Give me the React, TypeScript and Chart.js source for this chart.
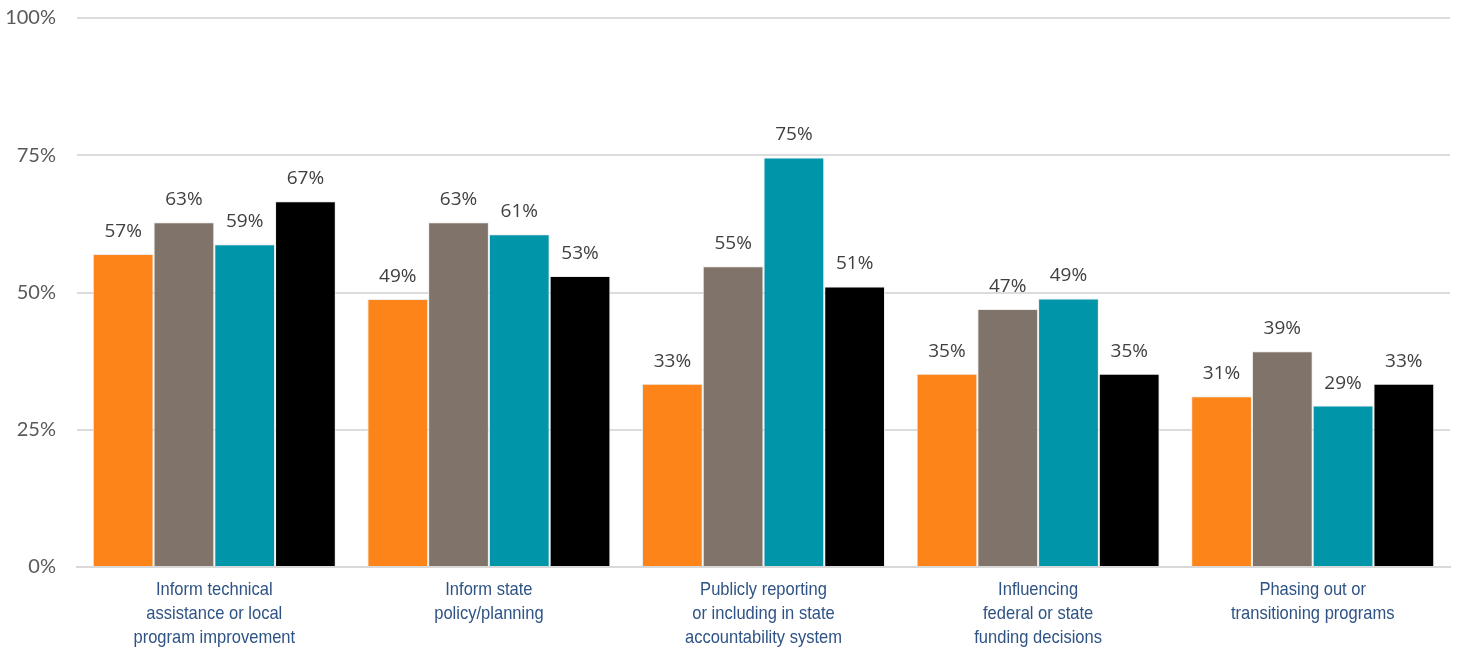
import React, { useEffect, useRef } from "react";
import { Chart, registerables } from "chart.js";

Chart.register(...registerables);

const categories: string[][] = [
  ["Inform technical", "assistance or local", "program improvement"],
  ["Inform state", "policy/planning"],
  ["Publicly reporting", "or including in state", "accountability system"],
  ["Influencing", "federal or state", "funding decisions"],
  ["Phasing out or", "transitioning programs"],
];

const seriesA: number[] = [57.0, 48.8, 33.4, 35.2, 31.1];
const seriesB: number[] = [62.8, 62.8, 54.8, 47.0, 39.3];
const seriesC: number[] = [58.8, 60.6, 74.6, 48.9, 29.4];
const seriesD: number[] = [66.6, 53.0, 51.1, 35.2, 33.4];

const seriesColors: string[] = ["#fd8419", "#807369", "#0095a9", "#000000"];
const yTicks: number[] = [0, 25, 50, 75, 100];

const labelPlugin = {
  id: "barLabels",
  afterDatasetsDraw(chart: any) {
    const ctx = chart.ctx;
    ctx.save();
    ctx.font = "19px 'Open Sans'";
    ctx.fillStyle = "#404040";
    ctx.textAlign = "center";
    ctx.textBaseline = "bottom";
    chart.data.datasets.forEach((ds: any, i: number) => {
      const meta = chart.getDatasetMeta(i);
      meta.data.forEach((el: any, j: number) => {
        const v = ds.data[j];
        ctx.fillText(Math.round(v) + "%", el.x, el.y - 13);
      });
    });
    ctx.restore();
  },
};

// Category labels drawn in a narrowed face (no condensed font installed)
const categoryLabelPlugin = {
  id: "categoryLabels",
  afterDraw(chart: any) {
    const ctx = chart.ctx;
    const xs = chart.scales.x;
    const bottom = chart.chartArea.bottom;
    const sx = 0.87;
    ctx.save();
    ctx.font = "19px 'Liberation Sans'";
    ctx.fillStyle = "#2e5384";
    ctx.textAlign = "center";
    ctx.textBaseline = "middle";
    (chart.data.labels as string[][]).forEach((lines, i) => {
      const x = xs.getPixelForTick(i);
      lines.forEach((line, j) => {
        ctx.save();
        ctx.translate(x, bottom + 23 + 24 * j);
        ctx.scale(sx, 1);
        ctx.fillText(line, 0, 0);
        ctx.restore();
      });
    });
    ctx.restore();
  },
};

export default function App() {
  const ref = useRef<HTMLCanvasElement>(null);
  useEffect(() => {
    if (!ref.current) return;
    const data = [seriesA, seriesB, seriesC, seriesD];
    const chart = new Chart(ref.current, {
      type: "bar",
      data: {
        labels: categories,
        datasets: data.map((d, i) => ({
          label: "S" + i,
          data: d,
          backgroundColor: seriesColors[i],
          borderColor: "rgba(235,235,235,0.9)",
          borderWidth: 1,
          categoryPercentage: 0.885,
          barPercentage: 1.0,
        })),
      },
      options: {
        animation: false,
        responsive: false,
        maintainAspectRatio: false,
        layout: { padding: { top: 18, right: 9, left: 0, bottom: 0 } },
        plugins: { legend: { display: false }, tooltip: { enabled: false } },
        scales: {
          x: {
            grid: { display: false, drawTicks: false },
            border: { display: true, color: "#d9d9d9", width: 2 },
            ticks: { display: false, autoSkip: false },
            afterFit: (s: any) => {
              s.height = 84;
              s.paddingLeft = 0;
              s.paddingRight = 0;
            },
          },
          y: {
            min: 0,
            max: 100,
            afterBuildTicks: (s: any) => {
              s.ticks = yTicks.map((v) => ({ value: v }));
            },
            grid: { color: "#dcdcdc", lineWidth: 2, drawTicks: false },
            border: { display: false },
            ticks: {
              color: "#595959",
              font: { family: "Lato", size: 20 },
              padding: 21,
              callback: (v: any) => v + "%",
            },
            afterFit: (s: any) => {
              s.width = 77;
              s.paddingTop = 0;
              s.paddingBottom = 0;
            },
          },
        },
      },
      plugins: [labelPlugin, categoryLabelPlugin],
    });
    return () => chart.destroy();
  }, []);
  return (
    <div style={{ position: "fixed", left: 0, top: 0, width: 1459, height: 651, background: "#fff" }}>
      <canvas ref={ref} width={1459} height={651} style={{ display: "block" }} />
    </div>
  );
}
